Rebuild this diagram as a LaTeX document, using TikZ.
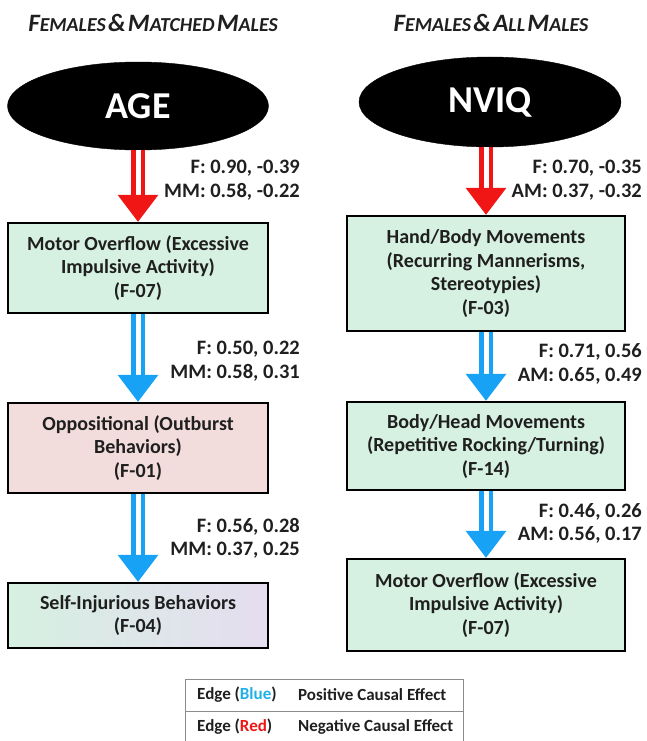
\documentclass[tikz,border=0pt]{standalone}
\usepackage{fontspec}
\setmainfont{Carlito}
\usetikzlibrary{calc,shapes.geometric}
\definecolor{redarr}{RGB}{240,22,22}
\definecolor{bluearr}{RGB}{24,162,245}
\definecolor{legblue}{RGB}{30,176,232}
\definecolor{boxgreen}{RGB}{214,240,225}
\definecolor{boxpink}{RGB}{242,221,220}
\definecolor{boxlav}{RGB}{229,221,240}
\newcommand{\bigsc}[2]{{\fontsize{25}{28}\selectfont #1}{\fontsize{19.8}{22}\selectfont #2}}
\newcommand{\causearrow}[3]{%
  \draw[line width=4.5pt, double=white, double distance=5pt, draw=#1] (#2) -- ($(#3.north)+(0,-26)$);
  \fill[#1] ($(#3.north)+(-20.5,-27)$) -- ($(#3.north)+(20.5,-27)$) -- (#3.north) -- cycle;}
\tikzset{
  fbox/.style={draw=black, line width=2.5pt, align=center, inner sep=2pt,
    font=\fontsize{20}{23.5}\selectfont\bfseries, text=black!88},
  oval/.style={ellipse, fill=black, draw=black, text=white, inner sep=0pt,
    font=\fontsize{38}{40}\selectfont\bfseries},
  coef/.style={anchor=east, align=right, inner sep=0pt,
    font=\fontsize{20.5}{23.5}\selectfont\bfseries, text=black!88},
  ttl/.style={font=\bfseries\itshape, text=black!88, inner sep=0pt},
  legtxt/.style={anchor=west, inner sep=0pt, font=\fontsize{17}{19}\selectfont\bfseries, text=black!88},
  legline/.style={draw=black!45, line width=0.9pt}
}
\begin{document}
\begin{tikzpicture}[x=1pt,y=-1pt]
\useasboundingbox (0,0) rectangle (646,741);
% titles
\node[ttl] (t1) at (153,23) {\bigsc{F}{EMALES} \bigsc{\&}{} \bigsc{M}{ATCHED} \bigsc{M}{ALES}};
\node[ttl] (t2) at (491,23) {\bigsc{F}{EMALES} \bigsc{\&}{} \bigsc{A}{LL} \bigsc{M}{ALES}};
% left column
\node[oval, minimum width=261, minimum height=88] (age) at (138,106) {AGE};
\node[fbox, fill=boxgreen, minimum width=260, minimum height=90] (l1) at (138,268)
  {Motor Overflow (Excessive\\Impulsive Activity)\\(F-07)};
\node[fbox, fill=boxpink, minimum width=260, minimum height=90] (l2) at (138,448)
  {Oppositional (Outburst\\Behaviors)\\(F-01)};
\node[fbox, left color=boxgreen, right color=boxlav, middle color=boxgreen!50!boxlav,
  minimum width=260, minimum height=65] (l3) at (138,615.5)
  {Self-Injurious Behaviors\\(F-04)};
% right column
\node[oval, minimum width=262, minimum height=90] (nviq) at (490,102) {NVIQ};
\node[fbox, fill=boxgreen, minimum width=278, minimum height=115] (r1) at (486,273.5)
  {Hand/Body Movements\\(Recurring Mannerisms,\\Stereotypies)\\(F-03)};
\node[fbox, fill=boxgreen, minimum width=278, minimum height=88] (r2) at (486,446)
  {Body/Head Movements\\(Repetitive Rocking/Turning)\\(F-14)};
\node[fbox, fill=boxgreen, minimum width=278, minimum height=92] (r3) at (486,605)
  {Motor Overflow (Excessive\\Impulsive Activity)\\(F-07)};
% arrows
\causearrow{redarr}{age.south}{l1}
\causearrow{bluearr}{l1.south}{l2}
\causearrow{bluearr}{l2.south}{l3}
\causearrow{redarr}{r1.north |- nviq.south}{r1}
\causearrow{bluearr}{r1.south}{r2}
\causearrow{bluearr}{r2.south}{r3}
% coefficient labels
\node[coef] (c1) at (300,180) {F: 0.90, -0.39\\MM: 0.58, -0.22};
\node[coef] (c2) at (300,361) {F: 0.50, 0.22\\MM: 0.58, 0.31};
\node[coef] (c3) at (300,538.5) {F: 0.56, 0.28\\MM: 0.37, 0.25};
\node[coef] (c4) at (642,180) {F: 0.70, -0.35\\AM: 0.37, -0.32};
\node[coef] (c5) at (642,364) {F: 0.71, 0.56\\AM: 0.65, 0.49};
\node[coef] (c6) at (642,523.5) {F: 0.46, 0.26\\AM: 0.56, 0.17};
% legend
\draw[legline] (185,748) -- (185,679) -- (463,679) -- (463,748);
\draw[legline] (185,711) -- (463,711);
\node[legtxt] (g1) at (197,695) {Edge (\textcolor{legblue}{Blue})};
\node[legtxt] (g2) at (298,695) {Positive Causal Effect};
\node[legtxt] (g3) at (197,727) {Edge (\textcolor{redarr}{Red})};
\node[legtxt] (g4) at (298,727) {Negative Causal Effect};
\end{tikzpicture}
\end{document}
